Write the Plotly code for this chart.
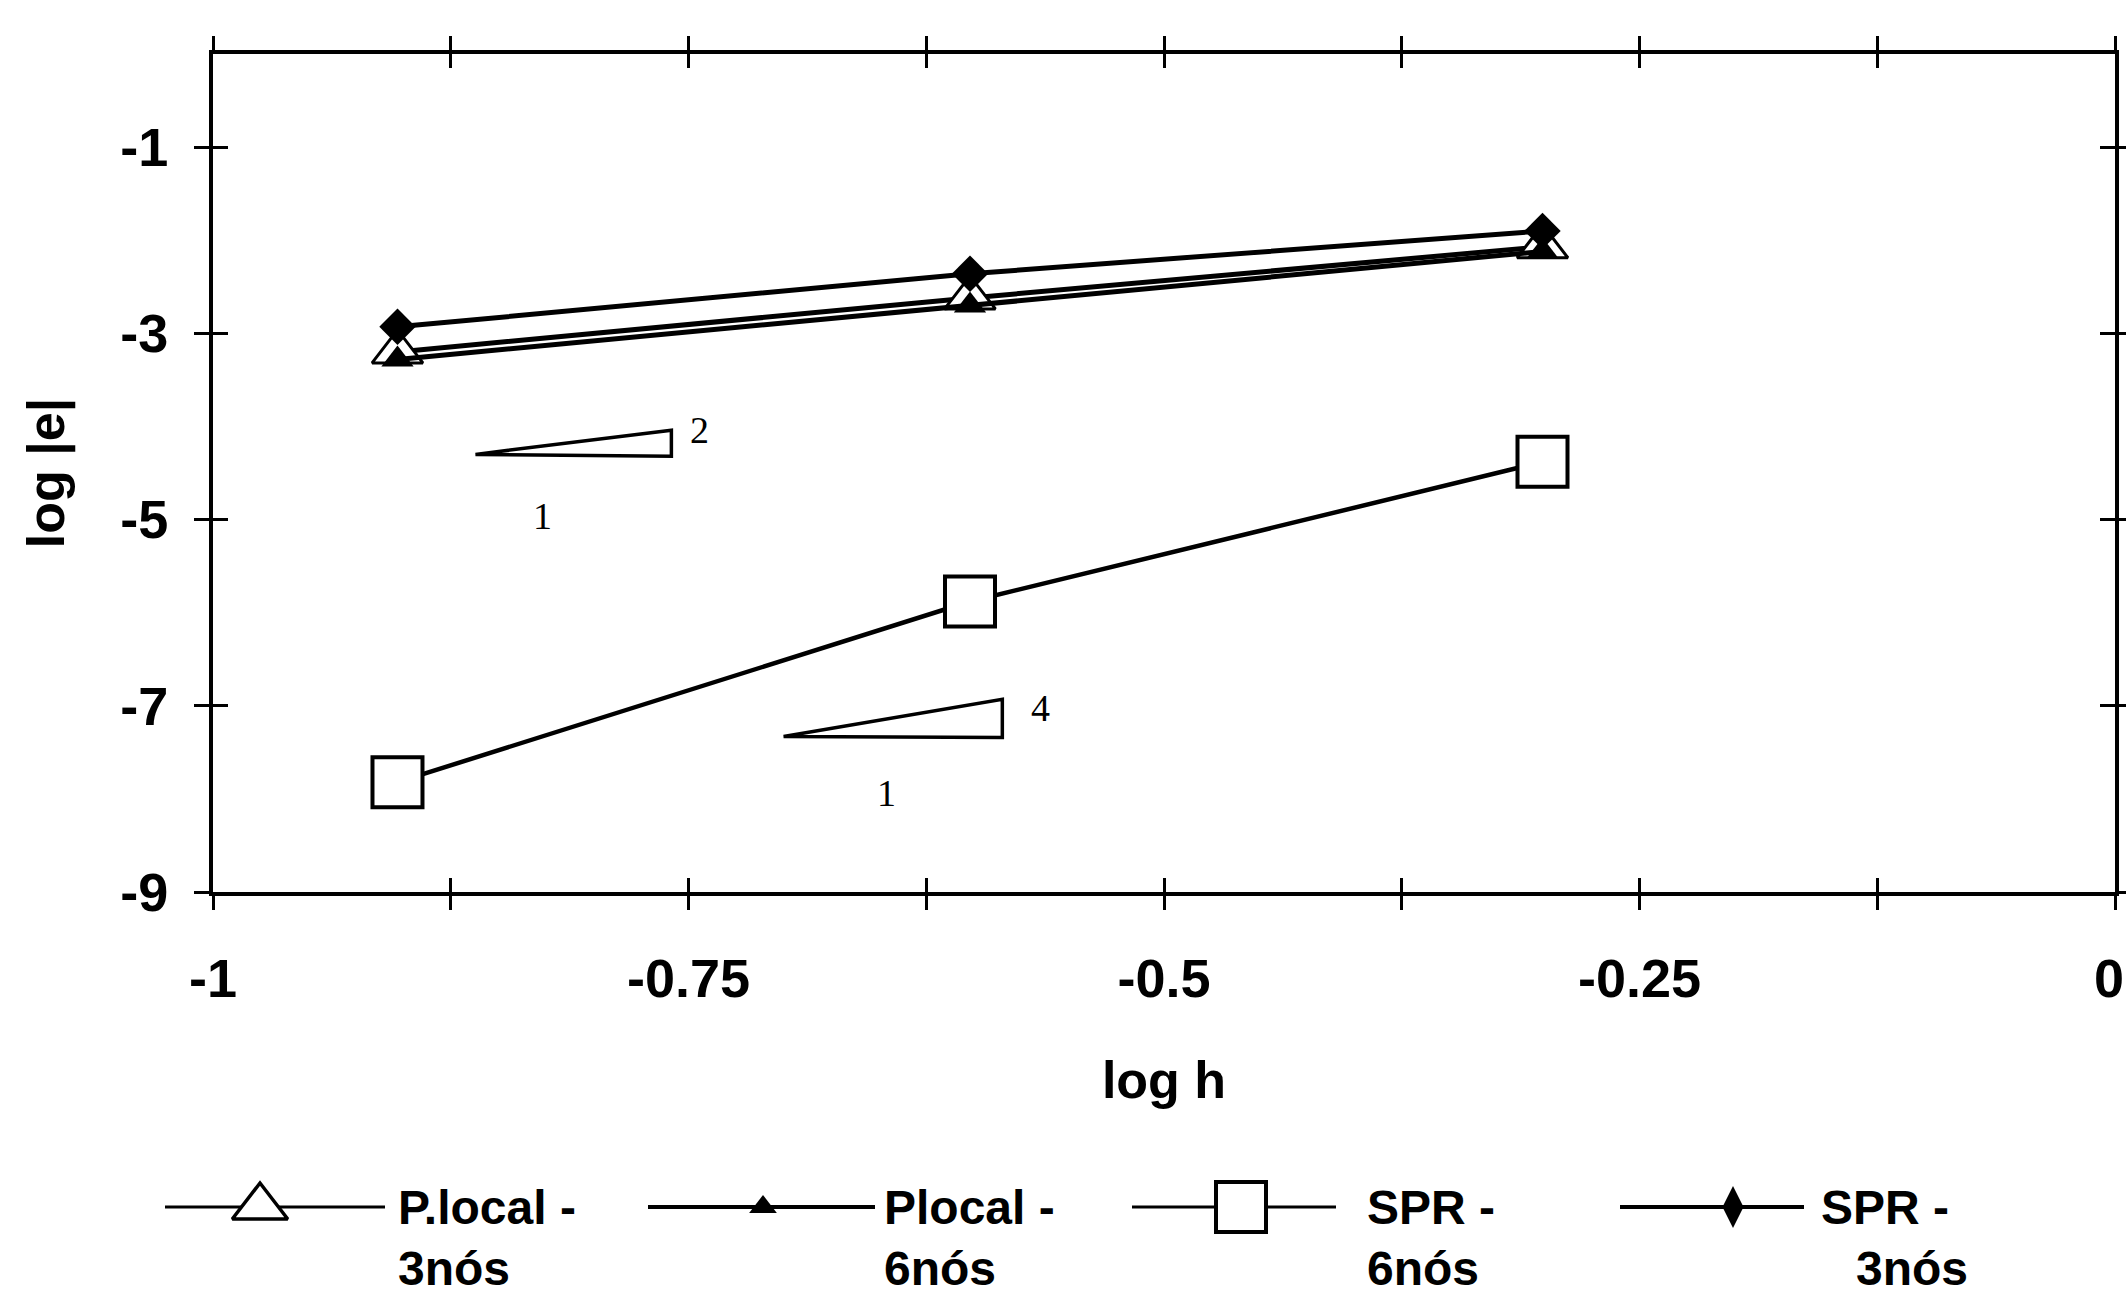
import plotly.graph_objects as go

W, H = 2126, 1303

# ---------------- data ----------------
log_h = [-0.903, -0.602, -0.301]
plocal_3nos = [-3.20, -2.62, -2.07]
plocal_6nos = [-3.28, -2.70, -2.12]
spr_6nos = [-7.82, -5.88, -4.38]
spr_3nos = [-2.93, -2.36, -1.90]

x_tick_vals = [-1, -0.75, -0.5, -0.25, 0]
x_tick_text = ["-1", "-0.75", "-0.5", "-0.25", ""]
x_end_label = "0"
x_minor_vals = [-0.875, -0.625, -0.375, -0.125]
y_tick_vals = [-9, -7, -5, -3, -1]
y_tick_text = ["-9", "-7", "-5", "-3", "-1"]

series_names = ["P.local -<br>3nós", "Plocal -<br>6nós", "SPR -<br>6nós", "SPR -<br>3nós"]

# slope indicator triangles (annotation geometry, data units)
slope_tri_1 = [(-0.862, -4.30), (-0.759, -4.04), (-0.759, -4.32)]
slope_tri_2 = [(-0.700, -7.33), (-0.585, -6.93), (-0.585, -7.34)]
slope_labels = [("2", -0.744, -4.04), ("1", -0.827, -4.96),
                ("4", -0.565, -7.02), ("1", -0.646, -7.94)]

# ---------------- styles ----------------
BLACK = "black"
styles = [
    dict(marker=dict(symbol="triangle-up-open", size=44, color=BLACK, line=dict(width=3, color=BLACK)),
         line=dict(color=BLACK, width=5)),
    dict(marker=dict(symbol="triangle-up", size=28, color=BLACK, line=dict(width=0)),
         line=dict(color=BLACK, width=5)),
    dict(marker=dict(symbol="square", size=50, color="white", line=dict(width=4, color=BLACK)),
         line=dict(color=BLACK, width=4.5)),
    dict(marker=dict(symbol="diamond", size=28, color=BLACK, line=dict(width=0)),
         line=dict(color=BLACK, width=5)),
]
series_values = [plocal_3nos, plocal_6nos, spr_6nos, spr_3nos]

fig = go.Figure()

for name, vals, st in zip(series_names, series_values, styles):
    m = dict(st["marker"])
    if m["symbol"] == "triangle-up-open":
        m = dict(symbol="triangle-up", size=m["size"], color="white", line=m["line"])
    fig.add_trace(go.Scatter(x=log_h, y=vals, mode="lines+markers", name=name,
                             marker=m, line=st["line"], showlegend=False,
                             xaxis="x", yaxis="y", cliponaxis=False))

# overlay axes used only for inside (crossing) ticks
fig.add_trace(go.Scatter(x=[], y=[], xaxis="x3", yaxis="y3", showlegend=False))

# ---------------- custom legend (bottom) ----------------
legend_item_x = [165, 648, 1132, 1620]
legend_line_len = [220, 227, 204, 184]
legend_line_w = [3, 4, 3, 4]
legend_marker_off = [95, 115, 109, 113]
legend_text_off = [231, 234, 233, 199]
legend_text2_off = [231, 234, 233, 234]
legend_y = 1207
legend_y2 = 1268
legend_marker_sizes = [48, 24, 50, 30]
legend_font = dict(family="Liberation Sans", size=48, color=BLACK, weight="bold")
for i, (name, st) in enumerate(zip(series_names, styles)):
    x0 = legend_item_x[i]
    fig.add_trace(go.Scatter(x=[x0, x0 + legend_line_len[i]], y=[legend_y, legend_y], mode="lines",
                             line=dict(color=BLACK, width=legend_line_w[i]), xaxis="x2", yaxis="y2",
                             showlegend=False, hoverinfo="skip", cliponaxis=False))
    m = dict(st["marker"])
    m["size"] = legend_marker_sizes[i]
    if m["symbol"] == "triangle-up-open":
        m = dict(symbol="triangle-up", size=m["size"], color="white", line=dict(width=3.5, color=BLACK))
    if m["symbol"] == "diamond":
        m = dict(symbol="diamond-tall", size=m["size"], color=BLACK, line=dict(width=0))
    fig.add_trace(go.Scatter(x=[x0 + legend_marker_off[i]], y=[legend_y], mode="markers",
                             marker=m, xaxis="x2", yaxis="y2", showlegend=False,
                             hoverinfo="skip", cliponaxis=False))
    line1, line2 = name.split("<br>")
    fig.add_annotation(x=x0 + legend_text_off[i], y=legend_y, xref="x2", yref="y2",
                       text=line1, showarrow=False, xanchor="left", yanchor="middle",
                       font=legend_font)
    fig.add_annotation(x=x0 + legend_text2_off[i], y=legend_y2, xref="x2", yref="y2",
                       text=line2, showarrow=False, xanchor="left", yanchor="middle",
                       font=legend_font)

# ---------------- slope triangles ----------------
for tri in (slope_tri_1, slope_tri_2):
    path = "M {} {} L {} {} L {} {} Z".format(tri[0][0], tri[0][1], tri[1][0], tri[1][1],
                                            tri[2][0], tri[2][1])
    fig.add_shape(type="path", path=path, xref="x", yref="y",
                  line=dict(color=BLACK, width=3.5))
for txt, xv, yv in slope_labels:
    fig.add_annotation(x=xv, y=yv, xref="x", yref="y", text=txt, showarrow=False,
                       xanchor="center", yanchor="middle",
                       font=dict(family="Liberation Serif", size=38, color=BLACK))

# ---------------- axes ----------------
x_dom = [213 / W, 2115 / W]
y_dom = [1 - 892 / H, 1 - 54 / H]
tickfont = dict(family="Liberation Sans", size=54, color=BLACK, weight="bold")
titlefont = dict(family="Liberation Sans", size=52, color=BLACK, weight="bold")

# end label of x axis sits at the very edge of the page (as in the original)
fig.add_annotation(x=1, y=1 - 978 / H, xref="paper", yref="paper", text=x_end_label,
                   showarrow=False, xanchor="right", yanchor="middle", font=tickfont)

common_x = dict(range=[-1, 0], domain=x_dom, tickmode="array", tickvals=x_tick_vals,
                showgrid=False, zeroline=False, ticklen=14, tickwidth=3, tickcolor=BLACK,
                minor=dict(tickvals=x_minor_vals, ticks="outside", ticklen=14, tickwidth=3,
                           tickcolor=BLACK, showgrid=False))
common_y = dict(range=[-9, 0], domain=y_dom, tickmode="array", tickvals=y_tick_vals,
                showgrid=False, zeroline=False, ticklen=15, tickwidth=3, tickcolor=BLACK)

fig.update_layout(
    width=W, height=H,
    margin=dict(l=0, r=0, t=0, b=0),
    paper_bgcolor="white", plot_bgcolor="rgba(0,0,0,0)",
    font=dict(family="Liberation Sans", color=BLACK),
    showlegend=False,
    xaxis=dict(**common_x, ticktext=x_tick_text, ticks="outside", showline=True,
               linecolor=BLACK, linewidth=4, mirror="ticks", tickfont=tickfont,
               ticklabelstandoff=22, anchor="y", automargin=False,
               title=dict(text="log h", font=titlefont, standoff=56)),
    yaxis=dict(**common_y, ticktext=y_tick_text, ticks="outside", showline=True,
               linecolor=BLACK, linewidth=4, mirror="ticks", tickfont=tickfont,
               ticklabelstandoff=15, anchor="x", automargin=False,
               title=dict(text="log |e|", font=titlefont, standoff=40)),
    xaxis3=dict(**{k: v for k, v in common_x.items() if k != "minor"},
                minor=dict(tickvals=x_minor_vals, ticks="inside", ticklen=14, tickwidth=3,
                           tickcolor=BLACK, showgrid=False),
                ticks="inside", showline=False, mirror="ticks", showticklabels=False,
                overlaying="x", anchor="y3"),
    yaxis3=dict(**common_y, ticks="inside", showline=False, mirror="ticks",
                showticklabels=False, overlaying="y", anchor="x3"),
    xaxis2=dict(domain=[0, 1], range=[0, W], visible=False, anchor="y2", fixedrange=True),
    yaxis2=dict(domain=[0, 0.13], range=[H, H - 0.13 * H], visible=False, anchor="x2",
                fixedrange=True),
)

fig.write_html("out.html")
